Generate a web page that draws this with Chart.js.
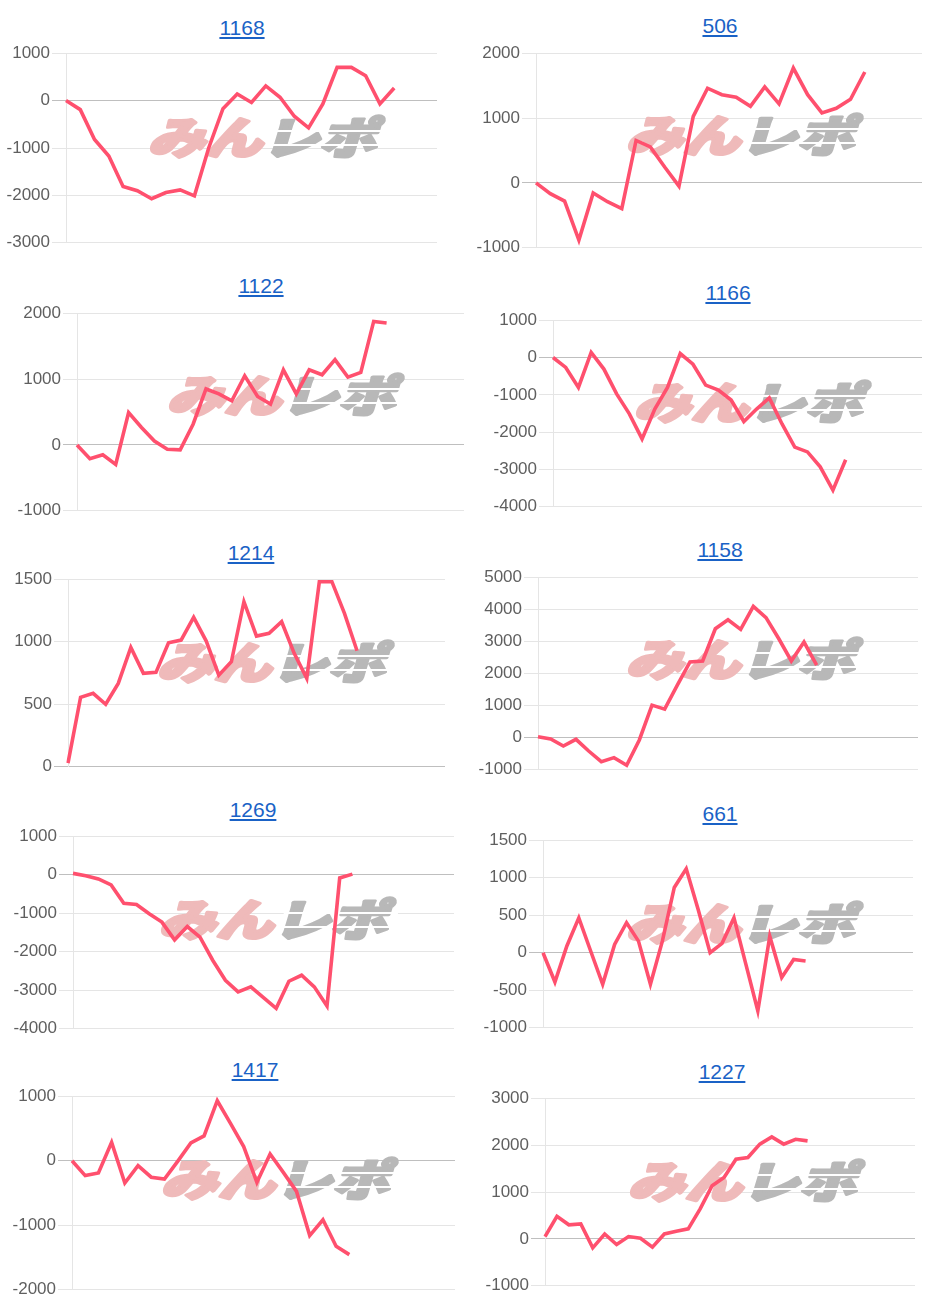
<!DOCTYPE html>
<html lang="ja">
<head>
    <meta charset="UTF-8">
    <title>差枚グラフ</title>
    <script src="https://cdn.jsdelivr.net/npm/chart.js"></script>
    <style>
        body {
            margin: 0;
            background: #fff;
            font-family: "Liberation Sans", Arial, sans-serif;
        }
        .page {
            position: relative;
            width: 940px;
            height: 1306px;
            overflow: hidden;
        }
        .title {
            position: absolute;
            transform: translate(-50%, -50%);
            font-size: 21px;
            color: #1a62c6;
            text-decoration: underline;
            white-space: nowrap;
        }
        canvas {
            position: absolute;
        }
    </style>
</head>
<body>
<div class="page" id="page"></div>
<script>
    // machine numbers (chart titles)
    const machineNos = ['1168', '506', '1122', '1166', '1214', '1158', '1269', '661', '1417', '1227'];

    // x categories (days); each chart uses the first N
    const dayLabels = ['1', '2', '3', '4', '5', '6', '7', '8', '9', '10', '11', '12', '13', '14', '15', '16',
        '17', '18', '19', '20', '21', '22', '23', '24', '25', '26', '27', '28', '29', '30', '31', '32'];
    const dayCounts = [27, 28, 31, 30, 31, 31, 31, 32, 30, 32];

    // y tick ranges
    const yMin = [-3000, -1000, -1000, -4000, 0, -1000, -4000, -1000, -2000, -1000];
    const yMax = [1000, 2000, 2000, 1000, 1500, 5000, 1000, 1500, 1000, 3000];
    const yStep = [1000, 1000, 1000, 1000, 500, 1000, 1000, 500, 1000, 1000];

    // series values
    const diff1168 = [0, -190, -820, -1170, -1810, -1900, -2070, -1940, -1885, -2010, -1000, -170,
        140, -40, 310, 70, -330, -575, -70, 700, 700, 525, -70, 265];
    const diff506 = [0, -165, -280, -880, -155, -290, -395, 655, 555, 245, -50, 1025,
        1460, 1360, 1320, 1180, 1480, 1220, 1770, 1360, 1080, 1150, 1290, 1710];
    const diff1122 = [0, -210, -150, -295, 490, 265, 60, -65, -75, 315, 850, 775, 670,
        1050, 735, 620, 1140, 775, 1140, 1065, 1295, 1030, 1100, 1875, 1850];
    const diff1166 = [0, -265, -800, 135, -310, -975, -1510, -2180, -1380, -800, 105, -180,
        -740, -870, -1140, -1715, -1380, -1085, -1780, -2400, -2530, -2930, -3555, -2740];
    const diff1214 = [30, 555, 587, 500, 667, 955, 747, 755, 992, 1013, 1195, 1005,
        733, 840, 1320, 1045, 1067, 1160, 907, 707, 1480, 1480, 1227, 928];
    const diff1158 = [30, -40, -260, -50, -415, -745, -620, -860, -70, 1015, 890, 1635,
        2360, 2390, 3395, 3675, 3375, 4090, 3740, 3090, 2390, 2980, 2260];
    const diff1269 = [35, -25, -110, -265, -740, -775, -1015, -1230, -1690, -1345, -1620, -2220,
        -2740, -3040, -2910, -3190, -3470, -2765, -2610, -2910, -3410, -85, 15];
    const diff661 = [0, -390, 90, 465, 20, -420, 110, 400, 155, -420, 155, 870,
        1120, 575, 0, 125, 465, -155, -775, 220, -330, -90, -110];
    const diff1417 = [0, -230, -190, 285, -345, -75, -255, -285, -10, 275, 385, 930,
        580, 220, -335, 105, -180, -475, -1160, -915, -1325, -1455];
    const diff1227 = [50, 480, 300, 320, -190, 105, -120, 50, 15, -175, 105, 165,
        215, 640, 1135, 1310, 1700, 1735, 2020, 2175, 2020, 2125, 2090];

    const series = [diff1168, diff506, diff1122, diff1166, diff1214, diff1158, diff1269, diff661, diff1417, diff1227];

    // page placement: title centre, plot area edges
    const boxes = [
        { tx: 242, ty: 28, l: 66, r: 437, t: 53, b: 243 },
        { tx: 720, ty: 26, l: 536, r: 922, t: 53, b: 248 },
        { tx: 261, ty: 286, l: 77, r: 464, t: 313, b: 511 },
        { tx: 728, ty: 293, l: 553, r: 922, t: 320, b: 507 },
        { tx: 251, ty: 553, l: 68, r: 445, t: 579, b: 767 },
        { tx: 720, ty: 550, l: 538, r: 918, t: 577, b: 770 },
        { tx: 253, ty: 810, l: 73, r: 454, t: 836, b: 1029 },
        { tx: 720, ty: 814, l: 543, r: 913, t: 840, b: 1028 },
        { tx: 255, ty: 1070, l: 72, r: 455, t: 1096, b: 1290 },
        { tx: 722, ty: 1072, l: 545, r: 915, t: 1098, b: 1286 }
    ];

    const AXIS_W = 70;
    const PAD = 12;

    const watermark = {
        id: 'watermark',
        beforeDatasetsDraw(chart, args, opts) {
            const ctx = chart.ctx;
            ctx.save();
            ctx.translate(opts.x, opts.y);
            ctx.transform(1, 0, -0.3, 1, 0, 0);
            ctx.scale(1.02, 0.78);
            ctx.font = '900 56px "Noto Sans CJK JP"';
            ctx.textBaseline = 'middle';
            ctx.lineJoin = 'round';
            ctx.lineWidth = 4;
            const w1 = ctx.measureText('みん').width;
            const w2 = ctx.measureText('レポ').width;
            const x0 = -(w1 + w2) / 2;
            ctx.fillStyle = ctx.strokeStyle = '#efbaba';
            ctx.fillText('みん', x0, 0);
            ctx.strokeText('みん', x0, 0);
            ctx.fillStyle = ctx.strokeStyle = '#b8b8b8';
            ctx.fillText('レポ', x0 + w1, 0);
            ctx.strokeText('レポ', x0 + w1, 0);
            // speed-line cuts through the grey part
            ctx.fillStyle = '#fff';
            ctx.fillRect(x0 + w1 + 4, -9, w2, 2.5);
            ctx.fillRect(x0 + w1 + 4, 9, w2, 2.5);
            ctx.restore();
        }
    };

    const page = document.getElementById('page');

    machineNos.forEach((no, i) => {
        const box = boxes[i];

        const title = document.createElement('a');
        title.className = 'title';
        title.href = '#';
        title.textContent = no;
        title.style.left = box.tx + 'px';
        title.style.top = box.ty + 'px';
        page.appendChild(title);

        const canvas = document.createElement('canvas');
        const left = box.l - AXIS_W;
        const top = box.t - PAD;
        canvas.width = box.r - box.l + AXIS_W;
        canvas.height = box.b - box.t + PAD * 2;
        canvas.style.left = left + 'px';
        canvas.style.top = top + 'px';
        page.appendChild(canvas);

        new Chart(canvas, {
            type: 'line',
            data: {
                labels: dayLabels.slice(0, dayCounts[i]),
                datasets: [{
                    data: series[i],
                    borderColor: 'rgb(255, 80, 110)',
                    borderWidth: 3.6,
                    pointRadius: 0,
                    tension: 0,
                    fill: false
                }]
            },
            options: {
                responsive: false,
                animation: false,
                events: [],
                layout: { padding: { top: PAD, bottom: PAD, left: 0, right: 0 } },
                plugins: {
                    legend: { display: false },
                    tooltip: { enabled: false },
                    watermark: { x: box.tx + 25 - left, y: box.ty + 109 - top }
                },
                scales: {
                    x: { display: false },
                    y: {
                        min: yMin[i],
                        max: yMax[i],
                        afterFit: s => { s.width = AXIS_W; },
                        ticks: {
                            stepSize: yStep[i],
                            padding: 2,
                            color: '#5f5f5f',
                            font: { family: '"Liberation Sans", Arial, sans-serif', size: 17 },
                            callback: v => String(v)
                        },
                        grid: {
                            tickLength: 14,
                            color: c => (c.tick && c.tick.value === 0) ? 'rgba(0,0,0,0.25)' : 'rgba(0,0,0,0.1)'
                        },
                        border: { color: 'rgba(0,0,0,0.1)' }
                    }
                }
            },
            plugins: [watermark]
        });
    });
</script>
</body>
</html>
